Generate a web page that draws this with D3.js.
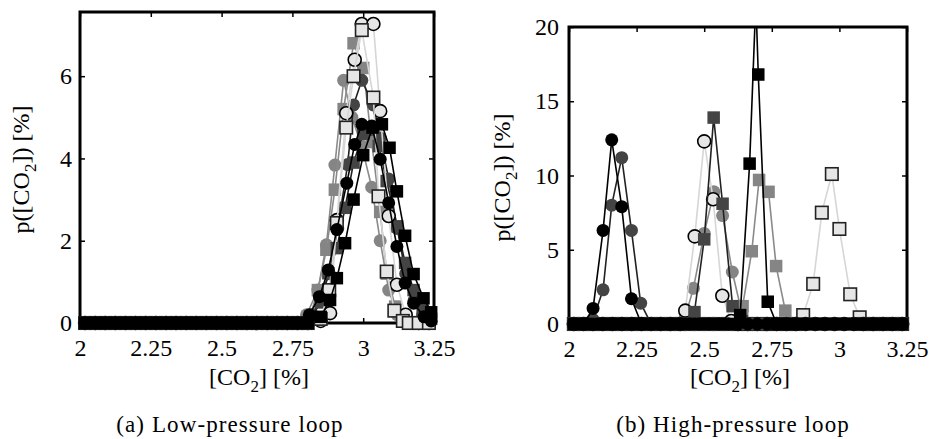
<!DOCTYPE html>
<html>
<head>
<meta charset="utf-8">
<script src="https://cdn.jsdelivr.net/npm/d3@7"></script>
<style>
  body { margin: 0; background: #fff; }
  svg text { font-family: "Liberation Serif", "DejaVu Serif", serif !important; fill: #000; }
</style>
</head>
<body>
<div id="wrapper"></div>
<script>
// tick values
const xTicks = [2, 2.25, 2.5, 2.75, 3, 3.25];
const yTicksLow = [0, 2, 4, 6];
const yTicksHigh = [0, 5, 10, 15, 20];

// histogram bin centres where the empty bins (value 0) sit
const zeroGrid = [2.018, 2.054, 2.089, 2.125, 2.161, 2.196, 2.232, 2.268, 2.304, 2.339,
  2.375, 2.411, 2.446, 2.482, 2.518, 2.554, 2.589, 2.625, 2.661, 2.696, 2.732, 2.768,
  2.804, 2.839, 2.875, 2.911, 2.946, 2.982, 3.018, 3.054, 3.089, 3.125, 3.161, 3.196, 3.232];

// (a) low-pressure loop
const lowGrayCircleX = [2.80, 2.84, 2.87, 2.90, 2.931, 2.96, 2.995, 3.03, 3.06, 3.09, 3.12];
const lowGrayCircleY = [0.2, 0.8, 1.9, 3.84, 5.9, 5.0, 4.3, 3.3, 2.0, 0.8, 0.2];
const lowGraySquareX = [2.81, 2.84, 2.87, 2.90, 2.931, 2.966, 3.0, 3.03, 3.06, 3.083, 3.113, 3.15];
const lowGraySquareY = [0.1, 0.8, 1.78, 3.24, 5.2, 6.8, 6.2, 4.4, 2.7, 1.2, 0.4, 0.15];
const lowDarkCircleX = [2.82, 2.85, 2.88, 2.91, 2.945, 2.966, 2.995, 3.036, 3.06, 3.09, 3.12, 3.15, 3.18, 3.21];
const lowDarkCircleY = [0.2, 0.6, 1.2, 2.3, 3.85, 5.3, 5.9, 5.3, 4.5, 3.5, 2.3, 1.2, 0.55, 0.2];
const lowDarkSquareX = [2.85, 2.877, 2.907, 2.936, 2.966, 3.0, 3.03, 3.055, 3.083, 3.12, 3.148, 3.178, 3.21, 3.24];
const lowDarkSquareY = [0.5, 1.21, 1.82, 2.8, 3.9, 4.6, 4.7, 4.3, 3.45, 2.35, 1.46, 0.8, 0.3, 0.1];
const lowLightCircleX = [2.85, 2.883, 2.907, 2.94, 2.97, 2.995, 3.036, 3.06, 3.09, 3.119, 3.15];
const lowLightCircleY = [0.05, 0.24, 2.5, 5.1, 6.4, 7.27, 7.27, 5.15, 2.6, 0.93, 0.2];
const lowLightSquareX = [2.85, 2.88, 2.907, 2.94, 2.966, 2.995, 3.036, 3.054, 3.083, 3.11, 3.14];
const lowLightSquareY = [0.1, 0.8, 2.43, 4.75, 6.0, 7.12, 5.48, 3.08, 1.25, 0.3, 0.05];
const lowBlackCircleX = [2.81, 2.845, 2.877, 2.907, 2.942, 2.97, 2.995, 3.03, 3.06, 3.09, 3.119, 3.148, 3.178, 3.215, 3.24];
const lowBlackCircleY = [0.2, 0.64, 1.29, 2.27, 3.4, 4.34, 4.83, 4.79, 3.98, 2.92, 1.86, 0.97, 0.48, 0.15, 0.05];
const lowBlackSquareX = [2.85, 2.883, 2.907, 2.936, 2.966, 3.0, 3.033, 3.066, 3.093, 3.119, 3.148, 3.178, 3.213, 3.24];
const lowBlackSquareY = [0.15, 0.56, 1.09, 1.94, 3.0, 4.08, 4.75, 4.83, 4.26, 3.2, 2.12, 1.19, 0.6, 0.26];

// (b) high-pressure loop
const highGrayCircleX = [2.43, 2.46, 2.50, 2.536, 2.568, 2.604, 2.64];
const highGrayCircleY = [0.5, 2.4, 6.1, 8.9, 7.3, 3.5, 0.7];
const highGraySquareX = [2.607, 2.642, 2.676, 2.703, 2.738, 2.766, 2.80];
const highGraySquareY = [0.2, 1.2, 4.9, 9.7, 8.9, 3.9, 0.9];
const highDarkCircleX = [2.089, 2.126, 2.158, 2.195, 2.231, 2.265];
const highDarkCircleY = [0.3, 2.3, 8.0, 11.2, 6.3, 1.4];
const highDarkSquareX = [2.464, 2.50, 2.535, 2.568, 2.605, 2.64];
const highDarkSquareY = [0.8, 5.7, 13.9, 8.1, 1.2, 0.2];
const highLightCircleX = [2.43, 2.465, 2.50, 2.533, 2.567, 2.60];
const highLightCircleY = [0.9, 5.9, 12.3, 8.4, 1.9, 0.2];
const highLightSquareX = [2.866, 2.903, 2.935, 2.972, 3.0, 3.04, 3.075];
const highLightSquareY = [0.6, 2.7, 7.5, 10.1, 6.4, 2.0, 0.45];
const highBlackCircleX = [2.089, 2.126, 2.158, 2.195, 2.231];
const highBlackCircleY = [1.05, 6.3, 12.4, 7.9, 1.7];
const highBlackSquareX = [2.633, 2.668, 2.691, 2.70, 2.735];
const highBlackSquareY = [0.6, 10.8, 21.8, 16.8, 1.5];

const serif = '"Liberation Serif", "DejaVu Serif", serif';

const styles = {
  grayCircle:   { shape: "circle", fill: "#858585", stroke: "none", line: "#8a8a8a" },
  graySquare:   { shape: "square", fill: "#858585", stroke: "none", line: "#8a8a8a" },
  darkCircle:   { shape: "circle", fill: "#444444", stroke: "none", line: "#222222" },
  darkSquare:   { shape: "square", fill: "#444444", stroke: "none", line: "#222222" },
  lightCircle:  { shape: "circle", fill: "#e6e6e6", stroke: "#000", line: "#d6d6d6" },
  lightSquare:  { shape: "square", fill: "#e6e6e6", stroke: "#222", line: "#d6d6d6" },
  blackCircle:  { shape: "circle", fill: "#000000", stroke: "none", line: "#000000" },
  blackSquare:  { shape: "square", fill: "#000000", stroke: "none", line: "#000000" }
};

// empty bins on both sides of the measured peak
function withEmptyBins(xs, ys) {
  const pts = [];
  zeroGrid.forEach(g => { if (g < xs[0] - 0.012) pts.push([g, 0]); });
  xs.forEach((x, i) => pts.push([x, ys[i]]));
  zeroGrid.forEach(g => { if (g > xs[xs.length - 1] + 0.012) pts.push([g, 0]); });
  return pts;
}

const panels = [
  {
    left: 80, right: 434, top: 12, bottom: 323, yMax: 7.56, yTicks: yTicksLow,
    yPad: 8, yLabelX: 29, xLabelX: 259, captionX: 230,
    caption: "(a) Low-pressure loop",
    series: [
      ["grayCircle", lowGrayCircleX, lowGrayCircleY],
      ["graySquare", lowGraySquareX, lowGraySquareY],
      ["darkCircle", lowDarkCircleX, lowDarkCircleY],
      ["darkSquare", lowDarkSquareX, lowDarkSquareY],
      ["lightCircle", lowLightCircleX, lowLightCircleY],
      ["lightSquare", lowLightSquareX, lowLightSquareY],
      ["blackCircle", lowBlackCircleX, lowBlackCircleY],
      ["blackSquare", lowBlackSquareX, lowBlackSquareY]
    ]
  },
  {
    left: 569, right: 907, top: 27, bottom: 324, yMax: 20, yTicks: yTicksHigh,
    yPad: 10, yLabelX: 510, xLabelX: 740, captionX: 733,
    caption: "(b) High-pressure loop",
    series: [
      ["lightSquare", highLightSquareX, highLightSquareY],
      ["grayCircle", highGrayCircleX, highGrayCircleY],
      ["graySquare", highGraySquareX, highGraySquareY],
      ["lightCircle", highLightCircleX, highLightCircleY],
      ["darkCircle", highDarkCircleX, highDarkCircleY],
      ["darkSquare", highDarkSquareX, highDarkSquareY],
      ["blackCircle", highBlackCircleX, highBlackCircleY],
      ["blackSquare", highBlackSquareX, highBlackSquareY]
    ]
  }
];

const width = 931, height = 439;
const svg = d3.select("#wrapper").append("svg")
  .attr("width", width).attr("height", height)
  .style("background", "#fff");

const markerR = 6.5, squareSide = 12.5;

panels.forEach((p, pi) => {
  const xScale = d3.scaleLinear().domain([2, 3.25]).range([p.left, p.right]);
  const yScale = d3.scaleLinear().domain([0, p.yMax]).range([p.bottom, p.top]);

  const g = svg.append("g");
  const clipId = "clip" + pi;
  svg.append("clipPath").attr("id", clipId).append("rect")
    .attr("x", p.left).attr("y", p.top)
    .attr("width", p.right - p.left).attr("height", p.bottom - p.top + 4);

  // axes (ticks pointing inward)
  g.append("g").attr("transform", `translate(0,${p.bottom})`)
    .call(d3.axisBottom(xScale).tickValues(xTicks).tickSizeInner(-5).tickSizeOuter(0)
      .tickPadding(16).tickFormat(d3.format("")))
    .call(a => a.select(".domain").remove())
    .call(a => a.selectAll("text").attr("font-size", 24));
  g.append("g").attr("transform", `translate(0,${p.top})`)
    .call(d3.axisTop(xScale).tickValues(xTicks).tickSizeInner(-5).tickSizeOuter(0).tickFormat(""))
    .call(a => a.select(".domain").remove());
  g.append("g").attr("transform", `translate(${p.left},0)`)
    .call(d3.axisLeft(yScale).tickValues(p.yTicks).tickSizeInner(-5).tickSizeOuter(0)
      .tickPadding(p.yPad))
    .call(a => a.select(".domain").remove())
    .call(a => a.selectAll("text").attr("font-size", 24));
  g.append("g").attr("transform", `translate(${p.right},0)`)
    .call(d3.axisRight(yScale).tickValues(p.yTicks).tickSizeInner(-5).tickSizeOuter(0).tickFormat(""))
    .call(a => a.select(".domain").remove());
  g.selectAll(".tick line").attr("stroke", "#000").attr("stroke-width", 1.5);
  g.selectAll("g").attr("font-family", serif);
  g.selectAll("text").attr("font-family", serif);

  g.append("rect")
    .attr("x", p.left).attr("y", p.top)
    .attr("width", p.right - p.left).attr("height", p.bottom - p.top)
    .attr("fill", "none").attr("stroke", "#000").attr("stroke-width", 3);

  // series
  const line = d3.line().x(d => xScale(d[0])).y(d => yScale(d[1]));
  p.series.forEach(([key, xs, ys]) => {
    const st = styles[key];
    const pts = withEmptyBins(xs, ys);
    const sg = g.append("g");
    sg.append("path").datum(pts)
      .attr("clip-path", `url(#${clipId})`)
      .attr("d", line).attr("fill", "none")
      .attr("stroke", st.line).attr("stroke-width", 1.6);
    const shown = pts.filter(d => d[1] <= p.yMax);
    if (st.shape === "circle") {
      sg.selectAll("circle").data(shown).join("circle")
        .attr("cx", d => xScale(d[0])).attr("cy", d => yScale(d[1]))
        .attr("r", markerR).attr("fill", st.fill)
        .attr("stroke", st.stroke).attr("stroke-width", 1.6);
    } else {
      sg.selectAll("rect").data(shown).join("rect")
        .attr("x", d => xScale(d[0]) - squareSide / 2).attr("y", d => yScale(d[1]) - squareSide / 2)
        .attr("width", squareSide).attr("height", squareSide).attr("fill", st.fill)
        .attr("stroke", st.stroke).attr("stroke-width", 1.6);
    }
  });

  // axis labels
  const xl = svg.append("text").attr("x", p.xLabelX).attr("y", 385)
    .attr("text-anchor", "middle").attr("font-size", 24).attr("font-family", serif);
  xl.append("tspan").text("[CO");
  xl.append("tspan").attr("dy", 7).attr("font-size", 17).text("2");
  xl.append("tspan").attr("dy", -7).text("] [%]");

  const cy = (p.top + p.bottom) / 2 + 2;
  const yl = svg.append("text").attr("transform", `translate(${p.yLabelX},${cy}) rotate(-90)`)
    .attr("text-anchor", "middle").attr("font-size", 24).attr("font-family", serif);
  yl.append("tspan").text("p([CO");
  yl.append("tspan").attr("dy", 7).attr("font-size", 17).text("2");
  yl.append("tspan").attr("dy", -7).text("]) [%]");

  svg.append("text").attr("x", p.captionX).attr("y", 432)
    .attr("text-anchor", "middle").attr("font-size", 23).attr("font-family", serif)
    .attr("letter-spacing", 1.1)
    .text(p.caption);
});
</script>
</body>
</html>
